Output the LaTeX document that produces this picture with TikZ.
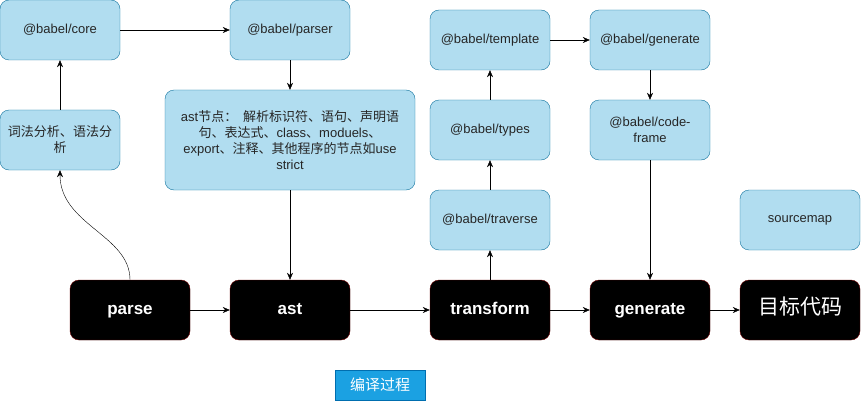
\documentclass[tikz,border=0pt]{standalone}
\usepackage{fontspec}
\setmainfont{Liberation Sans}
\newfontfamily\cjk{Noto Sans CJK SC}
\usetikzlibrary{arrows.meta}
\definecolor{lbfill}{HTML}{B1DDF0}
\definecolor{lbline}{HTML}{10739E}
\definecolor{dkline}{HTML}{6F0000}
\definecolor{tagfill}{HTML}{1BA1E2}
\definecolor{tagline}{HTML}{006EAF}
\begin{document}
\begin{tikzpicture}[x=1pt,y=-1pt,
  bluebox/.style={draw=lbline,fill=lbfill,rounded corners=9pt,minimum width=120pt,minimum height=60pt,font=\fontsize{13}{16}\selectfont,align=center,text=black!85,inner sep=2pt},
  blackbox/.style={draw=dkline,fill=black,rounded corners=9pt,minimum width=120pt,minimum height=60pt,font=\fontsize{17}{20}\selectfont\bfseries,text=white,text height=1.0em,text depth=0.12em},
  arr/.style={draw=black,-{Stealth[length=7pt,width=6pt]}}]
\useasboundingbox (0,0) rectangle (861,401);
\node[bluebox] (core) at (60,30) {@babel/core};
\node[bluebox] (parser) at (290,30) {@babel/parser};
\node[bluebox] (lex) at (60,140) {\cjk 词法分析、语法分\\\cjk 析};
\node[bluebox,minimum width=250pt,minimum height=100pt] (astnode) at (290,140) {ast{\cjk 节点：\ \ 解析标识符、语句、声明语}\\{\cjk 句、表达式、}class{\cjk 、}moduels{\cjk 、}\\export{\cjk 、注释、其他程序的节点如}use\\strict};
\node[bluebox] (template) at (490,40) {@babel/template};
\node[bluebox] (bgen) at (650,40) {@babel/generate};
\node[bluebox] (types) at (490,130) {@babel/types};
\node[bluebox] (frame) at (650,130) {@babel/code-\\frame};
\node[bluebox] (traverse) at (490,220) {@babel/traverse};
\node[bluebox] (smap) at (800,220) {sourcemap};
\node[blackbox] (parse) at (130,310) {parse};
\node[blackbox] (ast) at (290,310) {ast};
\node[blackbox] (transform) at (490,310) {transform};
\node[blackbox] (generate) at (650,310) {generate};
\node[blackbox,font=\fontsize{21}{25}\selectfont\cjk] (target) at (800,310) {目标代码};
\node[draw=tagline,fill=tagfill,minimum width=90pt,minimum height=30pt,text=white,font=\fontsize{15}{18}\selectfont\cjk,inner sep=1pt] (tag) at (380,385) {编译过程};
\draw[arr] (parse) -- (ast);
\draw[arr] (ast) -- (transform);
\draw[arr] (transform) -- (generate);
\draw[arr] (generate) -- (target);
\draw[arr] (parse.north) .. controls (130,235) and (60,225) .. (lex.south);
\draw[arr] (lex) -- (core);
\draw[arr] (core) -- (parser);
\draw[arr] (parser) -- (astnode);
\draw[arr] (astnode) -- (ast);
\draw[arr] (transform) -- (traverse);
\draw[arr] (traverse) -- (types);
\draw[arr] (types) -- (template);
\draw[arr] (template) -- (bgen);
\draw[arr] (bgen) -- (frame);
\draw[arr] (frame) -- (generate);
\end{tikzpicture}
\end{document}
